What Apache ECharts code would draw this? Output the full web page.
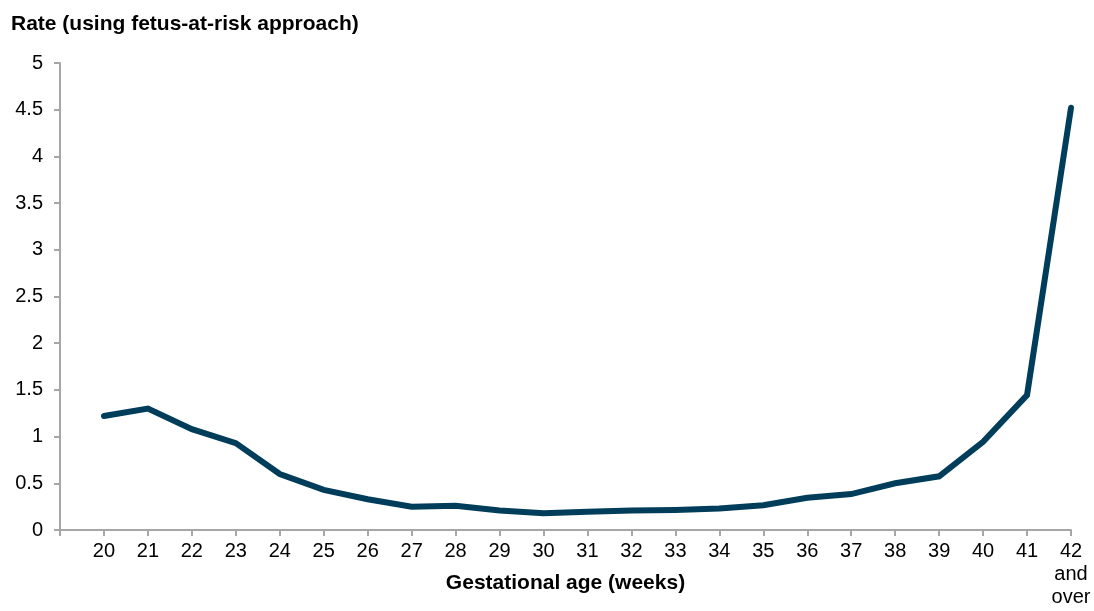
<!DOCTYPE html>
<html>
<head>
<meta charset="utf-8">
<script src="https://cdn.jsdelivr.net/npm/echarts@6/dist/echarts.min.js"></script>
<style>
html,body{margin:0;padding:0;background:#fff;}
#chart{width:1094px;height:611px;}
</style>
</head>
<body>
<div id="chart"></div>
<script>
var weeks = [20,21,22,23,24,25,26,27,28,29,30,31,32,33,34,35,36,37,38,39,40,41,42];
var rates = [1.22,1.30,1.08,0.93,0.60,0.43,0.33,0.25,0.26,0.21,0.18,0.195,0.21,0.215,0.23,0.265,0.345,0.385,0.50,0.575,0.945,1.445,4.52];
var yTicks = [0,0.5,1,1.5,2,2.5,3,3.5,4,4.5,5];
var lastLabel = '42\nand\nover';

var font = 'Liberation Sans, Arial, sans-serif';
var chart = echarts.init(document.getElementById('chart'), null, {renderer:'canvas'});
chart.setOption({
  animation:false,
  backgroundColor:'#fff',
  title:{
    text:'Rate (using fetus-at-risk approach)',
    left:6, top:9,
    textStyle:{fontFamily:font,fontSize:21,fontWeight:'bold',color:'#000'}
  },
  grid:{left:60,right:23,top:63,bottom:81,containLabel:false,outerBoundsMode:'none'},
  xAxis:{
    type:'value',
    min:19, max:42, interval:1,
    name:'Gestational age (weeks)',
    nameLocation:'middle',
    nameGap:43,
    nameMoveOverlap:false,
    nameTextStyle:{fontFamily:font,fontSize:21,fontWeight:'bold',color:'#000'},
    axisLine:{lineStyle:{color:'#a6a6a6',width:2}},
    axisTick:{show:true,length:6,lineStyle:{color:'#a6a6a6',width:2}},
    splitLine:{show:false},
    axisLabel:{
      fontFamily:font,fontSize:20,color:'#000',margin:10,lineHeight:23,
      showMinLabel:true,showMaxLabel:true,
      formatter:function(v){
        if (v === weeks[weeks.length-1]) return lastLabel;
        if (weeks.indexOf(v) < 0) return '';
        return String(v);
      }
    }
  },
  yAxis:{
    type:'value',
    min:yTicks[0], max:yTicks[yTicks.length-1], interval:0.5,
    axisLine:{show:true,lineStyle:{color:'#a6a6a6',width:2}},
    axisTick:{show:true,length:6,lineStyle:{color:'#a6a6a6',width:2}},
    splitLine:{show:false},
    axisLabel:{fontFamily:font,fontSize:20,color:'#000',margin:17}
  },
  series:[{
    type:'line',
    data:weeks.map(function(w,i){return [w,rates[i]];}),
    symbol:'none',
    lineStyle:{color:'#003d5a',width:6,cap:'round',join:'miter'}
  }]
});
</script>
</body>
</html>
